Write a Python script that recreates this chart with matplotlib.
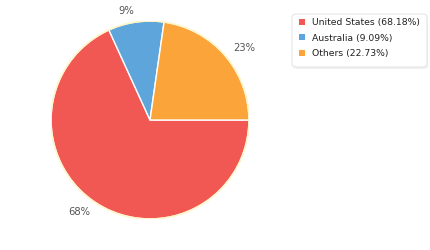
import matplotlib
matplotlib.use("Agg")
import matplotlib.pyplot as plt
from matplotlib.patches import Patch, FancyBboxPatch

labels = ["United States", "Australia", "Others"]
shares = [68.18, 9.09, 22.73]
colors = ["#F15854", "#5DA5DA", "#FAA43A"]

W, H = 430, 250
fig = plt.figure(figsize=(W / 100, H / 100), dpi=100)
ax = fig.add_axes([0.1186, 0.124, 0.4605, 0.792])

wedges, texts = ax.pie(
    shares,
    colors=colors,
    startangle=0,
    counterclock=False,
    labels=[f"{round(s)}%" for s in shares],
    labeldistance=1.11,
    wedgeprops=dict(edgecolor="white", linewidth=1.0),
    textprops=dict(color="#555555", fontsize=7.2),
)

# soft outer rim
rim = plt.Circle((0, 0), 1.0, fill=False, edgecolor="#FFF5C8", linewidth=1.2)
ax.add_patch(rim)
ax.set_xlim(-1.0, 1.0)
ax.set_ylim(-1.0, 1.0)
ax.set_aspect("equal")

# legend box with a light shadow
def fig_box(x0, y0, x1, y1, **kw):
    return FancyBboxPatch((x0 / W, 1 - y1 / H), (x1 - x0) / W, (y1 - y0) / H,
                          boxstyle="round,pad=0,rounding_size=0.012",
                          transform=fig.transFigure, **kw)

fig.patches.append(fig_box(293, 16, 428, 69, facecolor="#000000", alpha=0.06,
                           edgecolor="none"))
fig.patches.append(fig_box(292, 14, 427, 67, facecolor="white",
                           edgecolor="#E6E6E6", linewidth=0.8))

handles = [Patch(facecolor=c, edgecolor="none") for c in colors]
leg_labels = [f"{l} ({s:.2f}%)" for l, s in zip(labels, shares)]
leg = fig.legend(
    handles, leg_labels,
    loc="upper left",
    bbox_to_anchor=(299 / W, 1 - 18 / H),
    fontsize=6.7,
    handlelength=0.6, handleheight=0.6,
    handletextpad=0.75,
    labelspacing=0.72,
    borderpad=0,
    borderaxespad=0,
    frameon=False,
)
for t in leg.get_texts():
    t.set_color("#222222")

fig.savefig("out.png", dpi=100)
